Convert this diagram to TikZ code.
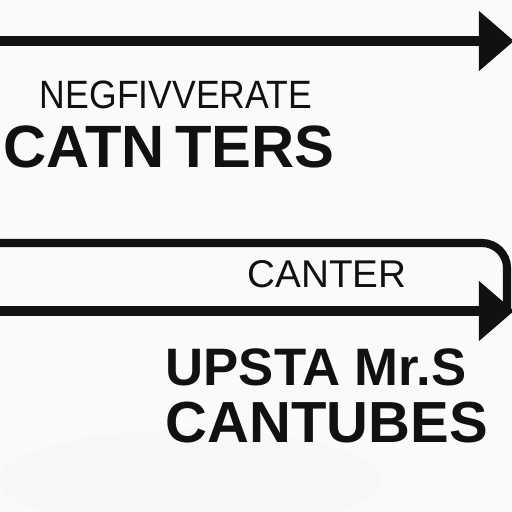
\documentclass[tikz,border=0pt]{standalone}
\usepackage{fontspec}
\setmainfont{Liberation Sans}
\newfontfamily\narrowsans[FakeStretch=0.9]{Liberation Sans}
\usetikzlibrary{arrows.meta}
\definecolor{Ink}{HTML}{111111}
\definecolor{Paper}{HTML}{FAFAFA}
\definecolor{Haze}{HTML}{F3F5F9}
\tikzset{
  bar/.style={draw=Ink,line width=5.8pt,-{Triangle[length=20pt,width=33pt]}},
  frame/.style={draw=Ink,line width=4.6pt,rounded corners=0.5cm},
  thin/.style={font=\fontsize{21}{25}\selectfont,text=Ink,anchor=base,inner sep=0pt},
  fat/.style={font=\fontsize{34}{40}\selectfont\bfseries,text=Ink,anchor=base,inner sep=0pt},
}
\begin{document}
\begin{tikzpicture}[x=0.02cm,y=-0.02cm]
\useasboundingbox (0,0) rectangle (512,512);
\clip (0,0) rectangle (512,512);
\fill[Paper] (0,0) rectangle (512,512);
\fill[Haze,opacity=0.5] (190,480) ellipse (190 and 50);
% -top-
\coordinate (topL) at (0,41);
\coordinate (topR) at (514,41);
\draw[bar] (topL) -- (topR);
\node[thin,font=\narrowsans\fontsize{22.5}{27}\selectfont] (neg) at (176,108) {NEGFIVVERATE};
\node[fat] (catn) at (169,167) {CATN\,TERS};
% -frame-
\coordinate (fL) at (-30,311);
\coordinate (fR) at (507,311);
\draw[frame] (fL) -- (-30,243) -- (507,243) -- (fR);
\node[thin,font=\fontsize{22}{26}\selectfont] (cant) at (327,287) {CANTER};
\coordinate (lowL) at (0,311);
\coordinate (lowR) at (514,311);
\draw[bar,line width=6.2pt] (lowL) -- (lowR);
% -bottom-
\node[fat,font=\fontsize{30}{36}\selectfont\bfseries] (ups) at (316,385) {UPSTA Mr.S};
\node[fat,font=\fontsize{33}{40}\selectfont\bfseries] (cantu) at (327,442) {CANTUBES};
\end{tikzpicture}
\end{document}
